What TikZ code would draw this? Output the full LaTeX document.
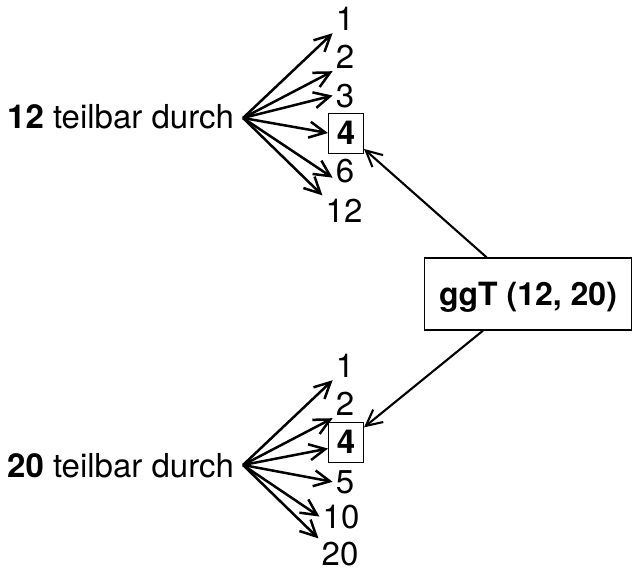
\documentclass[tikz,border=0pt]{standalone}
\usepackage{fontspec}
\setmainfont{TeX Gyre Heros}
\usetikzlibrary{arrows.meta}
\begin{document}
\begin{tikzpicture}[x=1pt,y=-1pt,
  txt/.style={font=\fontsize{33}{38}\selectfont},
  num/.style={txt, inner sep=3pt, anchor=base},
  lbl/.style={txt, inner sep=0pt, anchor=base west},
  numbox/.style={draw, line width=1pt, minimum width=35pt, minimum height=40pt, inner sep=0pt, font=\fontsize{33}{38}\selectfont\bfseries},
  fan/.style={line width=2.5pt, -{Straight Barb[length=16pt,width=16pt,line width=2.5pt]}},
  conn/.style={line width=2.1pt, -{Straight Barb[length=16pt,width=16pt,line width=2.1pt]}},
  gbox/.style={draw, line width=1.3pt, minimum width=207pt, minimum height=72pt, inner sep=0pt, text depth=0pt, font=\fontsize{32}{38}\selectfont\bfseries}]
\useasboundingbox (0,0) rectangle (635,571);
% upper group
\node[lbl] (l1) at (7,128) {\textbf{12} teilbar durch};
\coordinate (o1) at (243,118);
\node[num] (a1) at (345,30) {1};
\node[num] (a2) at (345,68) {2};
\node[num] (a3) at (345,107) {3};
\node[numbox] (a4) at (346,133) {4};
\node[num] (a6) at (345,182) {6};
\node[num] (a12) at (344,222) {12};
\draw[fan] (o1) -- (a1.south west);
\draw[fan] (o1) -- (a2.south west);
\draw[fan] (o1) -- (a3.west);
\draw[fan] (o1) -- (a4.west);
\draw[fan] (o1) -- (a6.210);
\draw[fan] (o1) -- (a12.north west);
% lower group
\node[lbl] (l2) at (7,477) {\textbf{20} teilbar durch};
\coordinate (o2) at (243,465);
\node[num] (b1) at (345,377) {1};
\node[num] (b2) at (345,415) {2};
\node[numbox] (b4) at (346,442) {4};
\node[num] (b5) at (345,493) {5};
\node[num] (b10) at (341,528) {10};
\node[num] (b20) at (340,565) {20};
\draw[fan] (o2) -- (b1.south west);
\draw[fan] (o2) -- (b2.south west);
\draw[fan] (o2) -- (b4.200);
\draw[fan] (o2) -- (b5.west);
\draw[fan] (o2) -- (b10.west);
\draw[fan] (o2) -- (b20.north west);
% ggT
\node[gbox] (g) at (528,294) {ggT (12, 20)};
\draw[conn] (g) -- (a4);
\draw[conn] (g) -- (b4);
\end{tikzpicture}
\end{document}
